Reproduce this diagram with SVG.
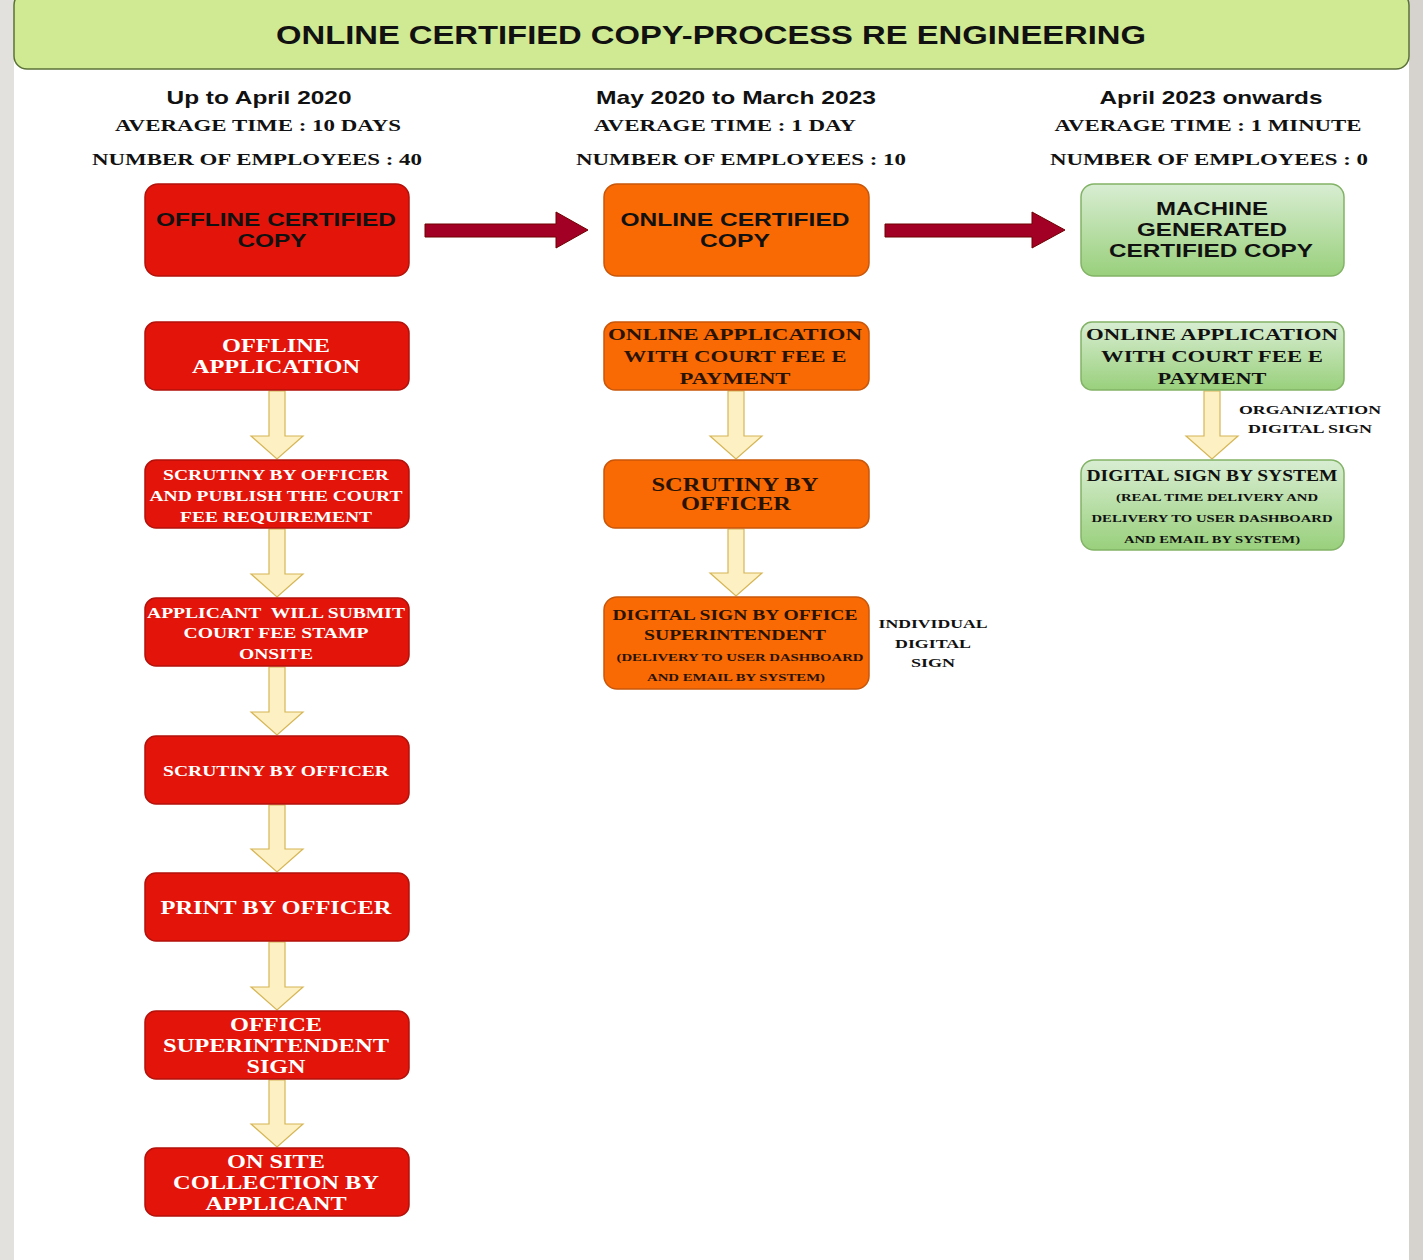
<svg xmlns="http://www.w3.org/2000/svg" width="1423" height="1260" viewBox="0 0 1423 1260">
<defs>
<linearGradient id="gg" x1="0" y1="0" x2="0" y2="1">
<stop offset="0" stop-color="#d8edd2"/>
<stop offset="1" stop-color="#99d07c"/>
</linearGradient>
<style>
.sans{font-family:"Liberation Sans",Arial,sans-serif;font-weight:bold;text-anchor:middle}
.serif{font-family:"Liberation Serif","Times New Roman",serif;font-weight:bold;text-anchor:middle}
.red{fill:#e3150b;stroke:#b3110a;stroke-width:1.5}
.org{fill:#f96a05;stroke:#c9570a;stroke-width:1.5}
.grn{fill:url(#gg);stroke:#82b366;stroke-width:1.5}
.wt{fill:#ffffff}
.dk{fill:#2a1200}
.bk{fill:#111111}
.ya{fill:#fdf0c2;stroke:#d6b656;stroke-width:1.2}
.ra{fill:#a20025;stroke:#6f0000;stroke-width:1}
</style>
</defs>
<rect x="0" y="0" width="1423" height="1260" fill="#ffffff"/>
<rect x="0" y="0" width="14" height="1260" fill="#e3e1de"/>
<rect x="1409" y="0" width="14" height="1260" fill="#d6d3cf"/>

<g id="title">
<rect x="14" y="-8" width="1395" height="77" rx="13" fill="#d0e993" stroke="#5b7237" stroke-width="1.5"/>
<text class="sans" x="711" y="44" font-size="26" fill="#111" textLength="870" lengthAdjust="spacingAndGlyphs">ONLINE CERTIFIED COPY-PROCESS RE ENGINEERING</text>
</g>

<g id="headers" fill="#111">
<text class="sans" x="259" y="104" font-size="19" textLength="185" lengthAdjust="spacingAndGlyphs">Up to April 2020</text>
<text class="serif" x="258" y="131" font-size="17" textLength="286" lengthAdjust="spacingAndGlyphs">AVERAGE TIME : 10 DAYS</text>
<text class="serif" x="257" y="165" font-size="17" textLength="330" lengthAdjust="spacingAndGlyphs">NUMBER OF EMPLOYEES : 40</text>
<text class="sans" x="736" y="104" font-size="19" textLength="280" lengthAdjust="spacingAndGlyphs">May 2020 to March 2023</text>
<text class="serif" x="725" y="131" font-size="17" textLength="262" lengthAdjust="spacingAndGlyphs">AVERAGE TIME : 1 DAY</text>
<text class="serif" x="741" y="165" font-size="17" textLength="330" lengthAdjust="spacingAndGlyphs">NUMBER OF EMPLOYEES : 10</text>
<text class="sans" x="1211" y="104" font-size="19" textLength="223" lengthAdjust="spacingAndGlyphs">April 2023 onwards</text>
<text class="serif" x="1208" y="131" font-size="17" textLength="307" lengthAdjust="spacingAndGlyphs">AVERAGE TIME : 1 MINUTE</text>
<text class="serif" x="1209" y="165" font-size="17" textLength="318" lengthAdjust="spacingAndGlyphs">NUMBER OF EMPLOYEES : 0</text>
</g>

<g id="connectors">
<path class="ra" d="M425,224 H556 V212 L588,230 L556,248 V237 H425 Z"/>
<path class="ra" d="M885,224 H1032 V212 L1065,230 L1032,248 V237 H885 Z"/>
<path class="ya" d="M269,391 H285 V436 H303 L277,459 L251,436 H269 Z"/>
<path class="ya" d="M269,529 H285 V574 H303 L277,597 L251,574 H269 Z"/>
<path class="ya" d="M269,667 H285 V712 H303 L277,735 L251,712 H269 Z"/>
<path class="ya" d="M269,805 H285 V849 H303 L277,872 L251,849 H269 Z"/>
<path class="ya" d="M269,942 H285 V987 H303 L277,1010 L251,987 H269 Z"/>
<path class="ya" d="M269,1080 H285 V1124 H303 L277,1147 L251,1124 H269 Z"/>
<path class="ya" d="M728,391 H744 V436 H762 L736,459 L710,436 H728 Z"/>
<path class="ya" d="M728,529 H744 V573 H762 L736,596 L710,573 H728 Z"/>
<path class="ya" d="M1204,391 H1220 V436 H1238 L1212,459 L1186,436 H1204 Z"/>
<text class="serif bk" x="1310" y="414" font-size="13.5" textLength="142" lengthAdjust="spacingAndGlyphs">ORGANIZATION</text>
<text class="serif bk" x="1310" y="433" font-size="13.5" textLength="124" lengthAdjust="spacingAndGlyphs">DIGITAL SIGN</text>
<text class="serif bk" x="933" y="628" font-size="13.5" textLength="109" lengthAdjust="spacingAndGlyphs">INDIVIDUAL</text>
<text class="serif bk" x="933" y="648" font-size="13.5" textLength="76" lengthAdjust="spacingAndGlyphs">DIGITAL</text>
<text class="serif bk" x="933" y="667" font-size="13.5" textLength="44" lengthAdjust="spacingAndGlyphs">SIGN</text>
</g>

<g id="n1a">
<rect class="red" x="145" y="184" width="264" height="92" rx="13"/>
<text class="sans bk" x="276" y="226" font-size="19" textLength="240" lengthAdjust="spacingAndGlyphs">OFFLINE CERTIFIED</text>
<text class="sans bk" x="272" y="247" font-size="19" textLength="69" lengthAdjust="spacingAndGlyphs">COPY</text>
</g>
<g id="n1b">
<rect class="red" x="145" y="322" width="264" height="68" rx="11"/>
<text class="serif wt" x="276" y="352" font-size="19" textLength="108" lengthAdjust="spacingAndGlyphs">OFFLINE</text>
<text class="serif wt" x="276" y="373" font-size="19" textLength="168" lengthAdjust="spacingAndGlyphs">APPLICATION</text>
</g>
<g id="n1c">
<rect class="red" x="145" y="460" width="264" height="68" rx="11"/>
<text class="serif wt" x="276" y="480" font-size="15.5" textLength="226" lengthAdjust="spacingAndGlyphs">SCRUTINY BY OFFICER</text>
<text class="serif wt" x="276" y="501" font-size="15.5" textLength="253" lengthAdjust="spacingAndGlyphs">AND PUBLISH THE COURT</text>
<text class="serif wt" x="276" y="522" font-size="15.5" textLength="192" lengthAdjust="spacingAndGlyphs">FEE REQUIREMENT</text>
</g>
<g id="n1d">
<rect class="red" x="145" y="598" width="264" height="68" rx="11"/>
<text class="serif wt" x="276" y="618" font-size="15.5" textLength="258" lengthAdjust="spacingAndGlyphs">APPLICANT&#160; WILL SUBMIT</text>
<text class="serif wt" x="276" y="638" font-size="15.5" textLength="185" lengthAdjust="spacingAndGlyphs">COURT FEE STAMP</text>
<text class="serif wt" x="276" y="659" font-size="15.5" textLength="74" lengthAdjust="spacingAndGlyphs">ONSITE</text>
</g>
<g id="n1e">
<rect class="red" x="145" y="736" width="264" height="68" rx="11"/>
<text class="serif wt" x="276" y="776" font-size="15.5" textLength="226" lengthAdjust="spacingAndGlyphs">SCRUTINY BY OFFICER</text>
</g>
<g id="n1f">
<rect class="red" x="145" y="873" width="264" height="68" rx="11"/>
<text class="serif wt" x="276" y="914" font-size="18.5" textLength="231" lengthAdjust="spacingAndGlyphs">PRINT BY OFFICER</text>
</g>
<g id="n1g">
<rect class="red" x="145" y="1011" width="264" height="68" rx="11"/>
<text class="serif wt" x="276" y="1031" font-size="18.5" textLength="92" lengthAdjust="spacingAndGlyphs">OFFICE</text>
<text class="serif wt" x="276" y="1052" font-size="18.5" textLength="226" lengthAdjust="spacingAndGlyphs">SUPERINTENDENT</text>
<text class="serif wt" x="276" y="1073" font-size="18.5" textLength="59" lengthAdjust="spacingAndGlyphs">SIGN</text>
</g>
<g id="n1h">
<rect class="red" x="145" y="1148" width="264" height="68" rx="11"/>
<text class="serif wt" x="276" y="1168" font-size="18.5" textLength="98" lengthAdjust="spacingAndGlyphs">ON SITE</text>
<text class="serif wt" x="276" y="1189" font-size="18.5" textLength="206" lengthAdjust="spacingAndGlyphs">COLLECTION BY</text>
<text class="serif wt" x="276" y="1210" font-size="18.5" textLength="141" lengthAdjust="spacingAndGlyphs">APPLICANT</text>
</g>

<g id="n2a">
<rect class="org" x="604" y="184" width="265" height="92" rx="13"/>
<text class="sans bk" x="735" y="226" font-size="19" textLength="229" lengthAdjust="spacingAndGlyphs">ONLINE CERTIFIED</text>
<text class="sans bk" x="735" y="247" font-size="19" textLength="70" lengthAdjust="spacingAndGlyphs">COPY</text>
</g>
<g id="n2b">
<rect class="org" x="604" y="322" width="265" height="68" rx="11"/>
<text class="serif dk" x="735" y="340" font-size="17" textLength="254" lengthAdjust="spacingAndGlyphs">ONLINE APPLICATION</text>
<text class="serif dk" x="735" y="362" font-size="17" textLength="223" lengthAdjust="spacingAndGlyphs">WITH COURT FEE E</text>
<text class="serif dk" x="735" y="384" font-size="17" textLength="111" lengthAdjust="spacingAndGlyphs">PAYMENT</text>
</g>
<g id="n2c">
<rect class="org" x="604" y="460" width="265" height="68" rx="11"/>
<text class="serif dk" x="735" y="491" font-size="19" textLength="167" lengthAdjust="spacingAndGlyphs">SCRUTINY BY</text>
<text class="serif dk" x="736" y="510" font-size="19" textLength="110" lengthAdjust="spacingAndGlyphs">OFFICER</text>
</g>
<g id="n2d">
<rect class="org" x="604" y="597" width="265" height="92" rx="13"/>
<text class="serif dk" x="735" y="620" font-size="15" textLength="245" lengthAdjust="spacingAndGlyphs">DIGITAL SIGN BY OFFICE</text>
<text class="serif dk" x="735" y="640" font-size="15" textLength="182" lengthAdjust="spacingAndGlyphs">SUPERINTENDENT</text>
<text class="serif dk" x="740" y="661" font-size="11" textLength="247" lengthAdjust="spacingAndGlyphs">(DELIVERY TO USER DASHBOARD</text>
<text class="serif dk" x="736" y="681" font-size="11" textLength="178" lengthAdjust="spacingAndGlyphs">AND EMAIL BY SYSTEM)</text>
</g>

<g id="n3a">
<rect class="grn" x="1081" y="184" width="263" height="92" rx="13"/>
<text class="sans bk" x="1212" y="215" font-size="19" textLength="112" lengthAdjust="spacingAndGlyphs">MACHINE</text>
<text class="sans bk" x="1212" y="236" font-size="19" textLength="150" lengthAdjust="spacingAndGlyphs">GENERATED</text>
<text class="sans bk" x="1211" y="257" font-size="19" textLength="204" lengthAdjust="spacingAndGlyphs">CERTIFIED COPY</text>
</g>
<g id="n3b">
<rect class="grn" x="1081" y="322" width="263" height="68" rx="11"/>
<text class="serif bk" x="1212" y="340" font-size="17" textLength="252" lengthAdjust="spacingAndGlyphs">ONLINE APPLICATION</text>
<text class="serif bk" x="1212" y="362" font-size="17" textLength="222" lengthAdjust="spacingAndGlyphs">WITH COURT FEE E</text>
<text class="serif bk" x="1212" y="384" font-size="17" textLength="109" lengthAdjust="spacingAndGlyphs">PAYMENT</text>
</g>
<g id="n3c">
<rect class="grn" x="1081" y="460" width="263" height="90" rx="13"/>
<text class="serif bk" x="1212" y="481" font-size="16" textLength="251" lengthAdjust="spacingAndGlyphs">DIGITAL SIGN BY SYSTEM</text>
<text class="serif bk" x="1217" y="501" font-size="11" textLength="202" lengthAdjust="spacingAndGlyphs">(REAL TIME DELIVERY AND</text>
<text class="serif bk" x="1212" y="522" font-size="11" textLength="241" lengthAdjust="spacingAndGlyphs">DELIVERY TO USER DASHBOARD</text>
<text class="serif bk" x="1212" y="543" font-size="11" textLength="176" lengthAdjust="spacingAndGlyphs">AND EMAIL BY SYSTEM)</text>
</g>
</svg>
